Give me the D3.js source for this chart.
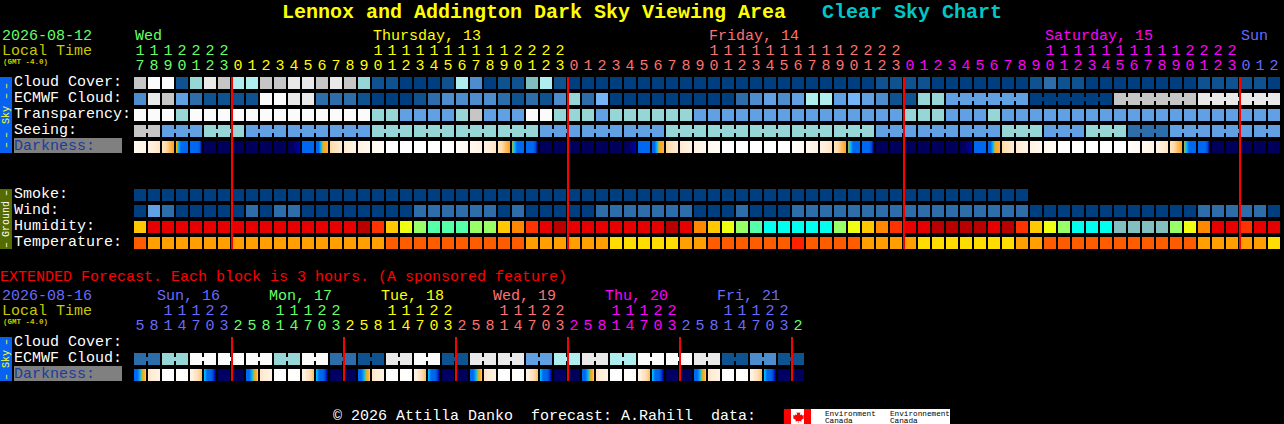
<!DOCTYPE html>
<html>
<head>
<meta charset="utf-8">
<script src="https://cdn.jsdelivr.net/npm/d3@7"></script>
<style>
html,body{margin:0;padding:0;background:#000;overflow:hidden}
svg{display:block}
text{font-family:"Liberation Mono",monospace;font-size:15px;white-space:pre}
</style>
</head>
<body>
<svg id="chart" width="1284" height="424"></svg>
<script>
// ---------- data ----------
const hoursMain = [17,18,19,20,21,22,23,
 0,1,2,3,4,5,6,7,8,9,10,11,12,13,14,15,16,17,18,19,20,21,22,23,
 0,1,2,3,4,5,6,7,8,9,10,11,12,13,14,15,16,17,18,19,20,21,22,23,
 0,1,2,3,4,5,6,7,8,9,10,11,12,13,14,15,16,17,18,19,20,21,22,23,
 0,1,2];
const hoursExt = [5,8,11,14,17,20,23, 2,5,8,11,14,17,20,23, 2,5,8,11,14,17,20,23,
 2,5,8,11,14,17,20,23, 2,5,8,11,14,17,20,23, 2,5,8,11,14,17,20,23, 2];

const dayColors = ["#66ff66","#ffff00","#ff7070","#ff00ff","#6a6aff"];
const dayColorsExt = ["#6a6aff","#66ff66","#ffff00","#ff7070","#ff00ff","#6a6aff","#66ff66"];
const dayLabels = ["Wed","Thursday, 13","Friday, 14","Saturday, 15","Sun"];
const dayLabelCols = [0,17,41,65,79];
const dayLabelsExt = ["Sun, 16","Mon, 17","Tue, 18","Wed, 19","Thu, 20","Fri, 21"];

const cloudPalette = ["#003f7f","#0f5290","#2c6daa","#4d8ccd","#62a0e4","#73b5f7","#7fbfbf","#96d6d6","#aeeeee","#c6c6c6","#e9e9e9","#fbfbfb"];
const cloudCover = [9,11,11,1,7,10,9,8,8,9,9,10,10,9,10,9,7,1,1,0,0,0,1,8,3,0,1,1,6,8,1,
 0,0,0,0,0,0,0,0,0,0,0,0,0,0,0,0,0,0,0,0,
 0,0,1,1,1,1,0,0,0,0,0,0,0,1,2,1,1,0,0,0,0,0,0,0,0,1,1,1,1,1,0];
const ecmwf = [3,10,9,4,2,1,1,1,1,11,11,10,10,2,2,2,1,0,0,0,1,
 2,3,3,3,3,2,1,2,1,3,7,2,5,0,0,0,0,0,0,0,0,0,2,3,4,3,4,8,8,4,5,
 4,3,1,1,7,7,4,4,4,4,4,4,0,0,0,0,0,0,9,9,9,9,9,9,10,10,10,10,10,10];
const transparency = [11,11,11,7,11,11,11,11,11,11,11,11,11,11,11,11,11,7,7,4,4,
 4,4,7,9,4,4,4,11,11,7,7,7,4,7,7,7,7,7,7,4,4,4,4,4,4,4,4,4,4,4,4,
 4,4,4,7,7,7,4,4,4,7,4,4,4,4,4,4,4,4,4,4,4,4,4,4,4,4,4,4,4,4];
const seeing = [9,9,4,4,4,7,7,7,4,4,4,4,4,4,4,4,4,7,7,7,7,7,7,7,7,7,7,7,7,
 4,4,4,4,4,4,4,4,4,7,7,7,7,7,7,7,7,7,7,7,7,7,7,7,
 4,4,4,4,4,4,4,4,4,7,7,7,4,4,4,7,7,7,2,2,2,4,4,4,4,4,4,4,4];
const smoke = [0,0,0,0,0,0,0,0,0,0,0,0,0,0,0,0,0,0,0,0,0,0,0,0,0,0,0,0,0,0,0,0,
 0,0,0,0,0,0,0,0,0,0,0,0,0,0,0,0,0,0,0,0,0,0,0,0,0,0,0,0,0,0,0,0];
const wind = [0,4,2,0,0,0,0,0,2,0,2,2,0,0,0,0,0,0,0,0,2,
 2,2,2,2,2,0,2,0,0,0,0,0,2,2,2,2,2,2,2,0,0,0,2,0,0,0,2,2,2,2,2,
 2,2,2,2,2,2,2,2,2,2,2,2,0,0,0,0,0,0,0,0,0,0,0,0,2,2,2,2,2,0];
const humidityPalette = ["#84bfbf","#00ffee","#55ffaa","#99ff66","#eeff11","#ffc800","#ff8800","#ff3300","#e60000","#b80000"];
const humidity = [5,8,8,8,8,8,8,8,8,8,8,8,8,8,8,8,9,7,5,4,3,
 2,2,2,3,3,5,6,7,8,9,8,8,8,8,8,8,8,9,8,6,5,4,3,2,1,1,1,1,1,3,4,
 5,6,7,8,8,9,9,9,9,8,9,7,5,4,3,1,1,1,0,0,0,0,3,4,6,8,8,7,8,8];
const tempPalette = ["#ff2000","#ff5c00","#ffa000","#ffdd00"];
const temperature = [1,2,2,2,2,2,2,2,2,2,2,2,2,2,2,2,2,2,1,1,1,
 1,1,1,1,1,1,1,2,2,2,2,2,2,3,3,3,3,3,2,2,1,1,1,1,1,1,0,1,1,1,1,
 2,2,2,2,3,3,3,3,3,3,3,2,2,1,1,1,1,1,1,1,1,1,1,1,2,2,2,2,2,3];
const ecmwfExt = [2,2,7,7,11,11,11,11,11,11,7,7,11,11,2,2,1,1,10,10,11,11,1,1,
 10,10,10,10,4,4,8,8,10,10,8,8,11,11,11,11,10,10,1,1,3,3,1,1];

// darkness levels: each cell lists its samples from left to right
const darkLevels = [0,1,2,3,4,4.5,5,6,7,8,9];
const darkColors = ["#ffffff","#fff8ee","#ffeed8","#ffd9a8","#ffa726","#e8b010","#00b8ff","#0068f0","#0050d8","#0000a8","#00005c"];
const darkness = [[1,1.4],[1.6,2.4],[2.5,3,3.6,4],[4.5,5,6,6,6,6],[6,6,6,6,6.5,8],
 [9],[9],[9],[9],[9],[9],[9,9,8.5,8],[6],[6,6,5,4.5,4,3.8],[3,2.5,2.2],[2.2,1.5],[1.5,1],[1,0.4],
 [0],[0],[0],[0],[0],[0.3,1],[1,1.5],[1.6,2.4],[2.5,3,3.6,4],[4.7,5,6,6,6,6],[6,6,6,6,7,8],
 [9],[9],[9],[9],[9],[9],[9,9,8.5,8],[6],[6,6,5,4.5,4,3.8],[3,2.5,2.2],[2.2,1.5],[1.5,1],[1,0.4],
 [0],[0],[0],[0],[0],[0.3,1],[1,1.5],[1.6,2.4],[2.5,3,3.6,4],[4.7,5,6,6,6,6],[6,6,6,6,7,8],
 [9],[9],[9],[9],[9],[9],[9,9,8.5,8],[6],[6,6,5,4.5,4,3.8],[3,2.5,2.2],[2.2,1.5],[1.5,1],[1,0.4],
 [0],[0],[0],[0],[0],[0.3,1],[1,1.5],[1.6,2.4],[2.5,3,3.6,4],[4.7,5,6,6,6,6],[6,6,6,6,7,8],
 [9],[9],[9],[9],[9]];
const darknessExt = [[6,6,5,4.5,3.5],[2.4,1.5],[0],[0.2],[1.5,2.5,3.5],[5,6,6,7,8],[9,8.8],[9],
 [6,6,5,4.5,3.5],[2.4,1.5],[0],[0.2],[1.5,2.5,3.5],[5,6,6,7,8],[9,8.8],[9],
 [6,6,5,4.5,3.5],[2.4,1.5],[0],[0.2],[1.5,2.5,3.5],[5,6,6,7,8],[9,8.8],[9],
 [6,6,5,4.5,3.5],[2.4,1.5],[0],[0.2],[1.5,2.5,3.5],[5,6,6,7,8],[9,8.8],[9],
 [6,6,5,4.5,3.5],[2.4,1.5],[0],[0.2],[1.5,2.5,3.5],[5,6,6,7,8],[9,8.8],[9],
 [6,6,5,4.5,3.5],[2.4,1.5],[0],[0.2],[1.5,2.5,3.5],[5,6,6,7,8],[9,8.8],[9]];
const midnightCols = [7,31,55,79];
const midnightColsExt = [7,15,23,31,39,47];

// ---------- layout ----------
const svg = d3.select("#chart");
const PITCH = 14, CELL = 12;
const x = d3.scaleLinear().domain([0,82]).range([134,134+82*PITCH]);
const cloudColor = d3.scaleOrdinal(d3.range(cloudPalette.length), cloudPalette);
const humColor = d3.scaleOrdinal(d3.range(humidityPalette.length), humidityPalette);
const tempColor = d3.scaleOrdinal(d3.range(tempPalette.length), tempPalette);
const darkRamp = d3.scaleLinear().domain(darkLevels).range(darkColors).interpolate(d3.interpolateRgb);

const label = (t,lx,ly,fill,extra={}) => {
  const s = svg.append("text").attr("x",lx).attr("y",ly).attr("fill",fill).text(t);
  Object.entries(extra).forEach(([k,v])=>s.attr(k,v));
  return s;
};

function cells(values, top, color, groupOf){
  const g = svg.append("g").attr("shape-rendering","crispEdges");
  g.selectAll("rect.c").data(values).join("rect").attr("class","c")
    .attr("x",(d,i)=>x(i)).attr("y",top).attr("width",CELL).attr("height",CELL)
    .attr("fill",d=>color(d));
  if(groupOf){
    g.selectAll("rect.j").data(values.slice(0,-1).map((d,i)=>({d,i})).filter(o=>groupOf(o.i)!==null && groupOf(o.i)===groupOf(o.i+1)))
      .join("rect").attr("class","j")
      .attr("x",o=>x(o.i)+CELL).attr("y",top+4).attr("width",PITCH-CELL).attr("height",4)
      .attr("fill",o=>color(o.d));
  }
}
function darkCells(values, top){
  const g = svg.append("g").attr("shape-rendering","crispEdges");
  values.forEach((stops,i)=>{
    const sample = stops.length>1 ? d3.scaleLinear().domain(d3.range(stops.length).map(k=>k*(CELL-1)/(stops.length-1))).range(stops) : ()=>stops[0];
    g.selectAll(null).data(d3.range(CELL)).join("rect")
      .attr("x",p=>x(i)+p).attr("y",top).attr("width",1).attr("height",CELL)
      .attr("fill",p=>darkRamp(sample(p)));
  });
}
function hourDigits(hours, colors, tensY, onesY){
  let day = 0;
  const rows = hours.map((h,i)=>{ if(i>0 && h<hours[i-1]) day++; return {h,i,c:colors[day]}; });
  svg.append("g").selectAll("text").data(rows.filter(r=>r.h>=10)).join("text")
    .attr("x",r=>x(r.i)+CELL/2).attr("y",tensY).attr("text-anchor","middle").attr("fill",r=>r.c)
    .text(r=>Math.floor(r.h/10));
  svg.append("g").selectAll("text").data(rows).join("text")
    .attr("x",r=>x(r.i)+CELL/2).attr("y",onesY).attr("text-anchor","middle").attr("fill",r=>r.c)
    .text(r=>r.h%10);
}
function redLines(cols, y0, y1){
  svg.append("g").attr("shape-rendering","crispEdges").selectAll("rect").data(cols).join("rect")
    .attr("x",c=>x(c)-1).attr("y",y0).attr("width",2).attr("height",y1-y0).attr("fill","#ff0000");
}
function sideBar(y0,y1,fill,txt,tcolor,dashes){
  svg.append("rect").attr("x",0).attr("y",y0).attr("width",12).attr("height",y1-y0).attr("fill",fill).attr("shape-rendering","crispEdges");
  const mid=(y0+y1)/2;
  const rot=(t,cy)=>svg.append("text").attr("transform",`translate(9,${cy}) rotate(-90)`)
    .attr("text-anchor","middle").attr("fill",tcolor).style("font-size","10px").text(t);
  rot(txt,mid);
  dashes.forEach(cy=>rot("\u2013",cy));
}

// ---------- title ----------
label("Lennox and Addington Dark Sky Viewing Area",282,18,"#ffff00",{"font-weight":"bold"}).style("font-size","20px");
label("Clear Sky Chart",822,18,"#00c8c8",{"font-weight":"bold"}).style("font-size","20px");

// ---------- main block ----------
label("2026-08-12",2,40,"#66ff66");
label("Local Time",2,55,"#c8c800");
label("(GMT -4.0)",3,64,"#c8c800").style("font-size","7.5px").attr("font-weight","bold");
dayLabels.forEach((t,i)=>label(t,x(dayLabelCols[i])+1,40,dayColors[i]));
hourDigits(hoursMain,dayColors,55,70);

const rowY = {cloud:77,ecmwf:93,trans:109,seeing:125,dark:141,smoke:189,wind:205,hum:221,temp:237};
[["Cloud Cover:",86],["ECMWF Cloud:",102],["Transparency:",118],["Seeing:",134]].forEach(([t,y])=>label(t,14,y,"#ffffff"));
svg.append("rect").attr("x",14).attr("y",138).attr("width",108).attr("height",15).attr("fill","#808080").attr("shape-rendering","crispEdges");
label("Darkness:",14,150,"#1c3c9c");
[["Smoke:",198],["Wind:",214],["Humidity:",230],["Temperature:",246]].forEach(([t,y])=>label(t,14,y,"#ffffff"));

cells(cloudCover,rowY.cloud,cloudColor);
cells(ecmwf,rowY.ecmwf,cloudColor,i=> i>=58 ? Math.floor((i-58)/6) : null);
cells(transparency,rowY.trans,cloudColor);
cells(seeing,rowY.seeing,cloudColor,i=>Math.floor((i+1)/3));
darkCells(darkness,rowY.dark);
cells(smoke,rowY.smoke,cloudColor);
cells(wind,rowY.wind,cloudColor);
cells(humidity,rowY.hum,humColor);
cells(temperature,rowY.temp,tempColor);
redLines(midnightCols,77,249);
sideBar(77,153,"#0862f0","Sky","#ffff33",[86,96,135,145]);
sideBar(189,249,"#556b00","Ground","#ffffff",[193,245]);

// ---------- extended block ----------
label("EXTENDED Forecast. Each block is 3 hours. (A sponsored feature)",0,281,"#ff0000");
label("2026-08-16",2,300,"#6a6aff");
label("Local Time",2,315,"#c8c800");
label("(GMT -4.0)",3,324,"#c8c800").style("font-size","7.5px").attr("font-weight","bold");
dayLabelsExt.forEach((t,i)=>label(t,157+112*i,300,dayColorsExt[i]));
hourDigits(hoursExt,dayColorsExt,315,330);
[["Cloud Cover:",346],["ECMWF Cloud:",362]].forEach(([t,y])=>label(t,14,y,"#ffffff"));
svg.append("rect").attr("x",14).attr("y",366).attr("width",108).attr("height",15).attr("fill","#808080").attr("shape-rendering","crispEdges");
label("Darkness:",14,378,"#1c3c9c");
cells(ecmwfExt,353,cloudColor,i=>Math.floor(i/2));
darkCells(darknessExt,369);
redLines(midnightColsExt,337,381);
sideBar(337,381,"#0862f0","Sky","#ffff33",[342,377]);

// ---------- footer ----------
label("\u00a9 2026 Attilla Danko  forecast: A.Rahill  data:",333,420,"#ffffff");
const flag = svg.append("g").attr("shape-rendering","crispEdges");
flag.append("rect").attr("x",784).attr("y",409).attr("width",166).attr("height",15).attr("fill","#ffffff");
flag.append("rect").attr("x",784).attr("y",409).attr("width",7).attr("height",15).attr("fill","#ff0000");
flag.append("rect").attr("x",804).attr("y",409).attr("width",7).attr("height",15).attr("fill","#ff0000");
svg.append("path").attr("fill","#ff0000").attr("d","M797.5 411l1.2 2 1.6-.8-.4 3 1.6-1 .6 1.4 1.9-.3-.6 2.1.8.5-3 2.2.3 1.3-2.8-.4v2h-.4v-2l-2.8.4.3-1.3-3-2.2.8-.5-.6-2.1 1.9.3.6-1.4 1.6 1-.4-3 1.6.8z");
[["Environment",825,415.5],["Canada",825,423],["Environnement",890,415.5],["Canada",890,423]].forEach(([t,tx,ty])=>{
  label(t,tx,ty,"#000000").style("font-size","7.7px");
});
</script>
</body>
</html>
